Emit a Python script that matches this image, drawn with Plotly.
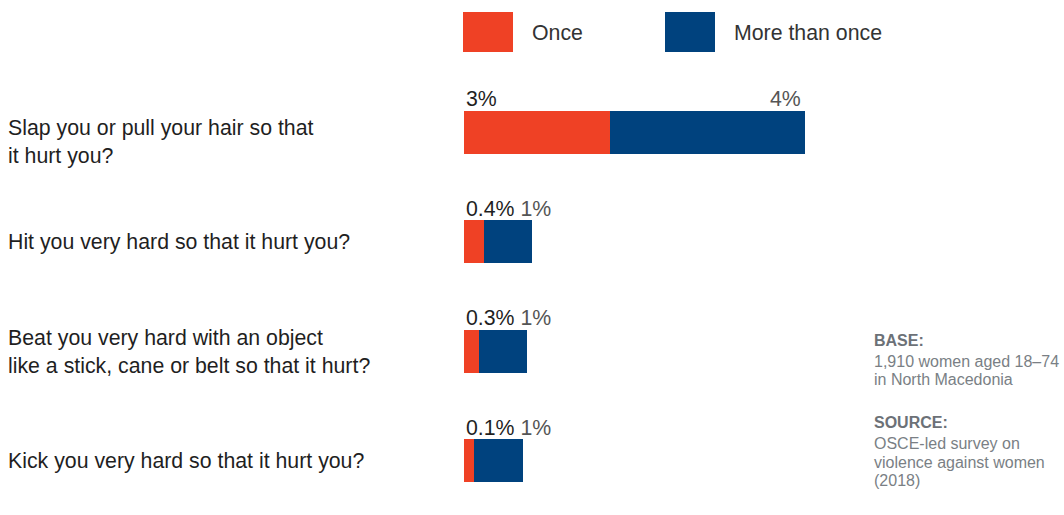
import plotly.graph_objects as go

categories = [
    "Slap you or pull your hair so that<br>it hurt you?",
    "Hit you very hard so that it hurt you?",
    "Beat you very hard with an object<br>like a stick, cane or belt so that it hurt?",
    "Kick you very hard so that it hurt you?",
]
once_values = [3.0, 0.4, 0.3, 0.2]
more_values = [4.0, 1.0, 1.0, 1.0]
once_labels = ["3%", "0.4%", "0.3%", "0.1%"]
more_labels = ["4%", "1%", "1%", "1%"]
series_names = ["Once", "More than once"]
series_colors = ["#EF4125", "#00427E"]

FONT = "Liberation Sans, Arial, sans-serif"
LABEL_DARK = "#1f1f1f"
LABEL_GREY = "#555555"

fig = go.Figure()
fig.add_trace(go.Bar(y=list(range(len(categories))), x=once_values, orientation="h",
                     name=series_names[0], marker=dict(color=series_colors[0], line_width=0),
                     width=0.393, showlegend=False, hoverinfo="skip"))
fig.add_trace(go.Bar(y=list(range(len(categories))), x=more_values, orientation="h",
                     name=series_names[1], marker=dict(color=series_colors[1], line_width=0),
                     width=0.393, showlegend=False, hoverinfo="skip"))

W, H = 1064, 515
ML, MR, MT, MB = 464, 210, 60, 10
pw = W - ML - MR
ph = H - MT - MB


def px_x(px):
    return (px - ML) / pw


def px_y(py):
    return 1 - (py - MT) / ph


annotations = []
label_shift = [-10, 0, -1, 0]
for i, cat in enumerate(categories):
    annotations.append(dict(x=px_x(6), xref="paper", y=i, yref="y", text=cat, showarrow=False,
                            xanchor="left", yanchor="middle", align="left",
                            font=dict(family=FONT, size=21.3, color=LABEL_DARK),
                            yshift=label_shift[i]))

for i in range(len(categories)):
    total = once_values[i] + more_values[i]
    if total >= 2:
        annotations.append(dict(x=0, xref="x", y=i, yref="y", text=once_labels[i], showarrow=False,
                                xanchor="left", yanchor="bottom", yshift=19, xshift=0,
                                font=dict(family=FONT, size=21.3, color=LABEL_DARK)))
        annotations.append(dict(x=total, xref="x", y=i, yref="y", text=more_labels[i], showarrow=False,
                                xanchor="right", yanchor="bottom", yshift=19, xshift=-2,
                                font=dict(family=FONT, size=21.3, color=LABEL_GREY)))
    else:
        annotations.append(dict(x=0, xref="x", y=i, yref="y",
                                text=once_labels[i] + " <span style='color:%s'>%s</span>" % (LABEL_GREY, more_labels[i]),
                                showarrow=False, xanchor="left", yanchor="bottom", yshift=19, xshift=0,
                                font=dict(family=FONT, size=21.3, color=LABEL_DARK)))

# Legend (swatches + labels)
shapes = []
legend_x = [463, 665]
for k, name in enumerate(series_names):
    shapes.append(dict(type="rect", xref="paper", yref="paper",
                       x0=px_x(legend_x[k]), x1=px_x(legend_x[k] + 50),
                       y0=px_y(52), y1=px_y(12), fillcolor=series_colors[k], line_width=0))
    annotations.append(dict(x=px_x(legend_x[k] + 67), xref="paper", y=px_y(33), yref="paper",
                            text=name, showarrow=False, xanchor="left", yanchor="middle",
                            font=dict(family=FONT, size=21.3, color="#333333")))

# Side notes
side = [
    ("<b>BASE:</b>", 340, "#6c7177"),
    ("1,910 women aged 18–74", 361, "#7a7f85"),
    ("in North Macedonia", 379.5, "#7a7f85"),
    ("<b>SOURCE:</b>", 422, "#6c7177"),
    ("OSCE-led survey on", 443, "#7a7f85"),
    ("violence against women", 462, "#7a7f85"),
    ("(2018)", 480, "#7a7f85"),
]
for txt, yy, col in side:
    annotations.append(dict(x=px_x(872), xref="paper", y=px_y(yy), yref="paper", text=txt,
                            showarrow=False, xanchor="left", yanchor="middle",
                            font=dict(family=FONT, size=16, color=col)))

fig.update_layout(
    width=W, height=H, barmode="stack",
    margin=dict(l=ML, r=MR, t=MT, b=MB, pad=0),
    paper_bgcolor="white", plot_bgcolor="white",
    xaxis=dict(range=[0, pw / 48.75], visible=False, fixedrange=True),
    yaxis=dict(range=[3.404, -0.661], visible=False, fixedrange=True),
    annotations=annotations, shapes=shapes,
    font=dict(family=FONT),
)
fig.write_html("out.html", post_script="document.body.style.margin='0';",
               config={"displayModeBar": False})
